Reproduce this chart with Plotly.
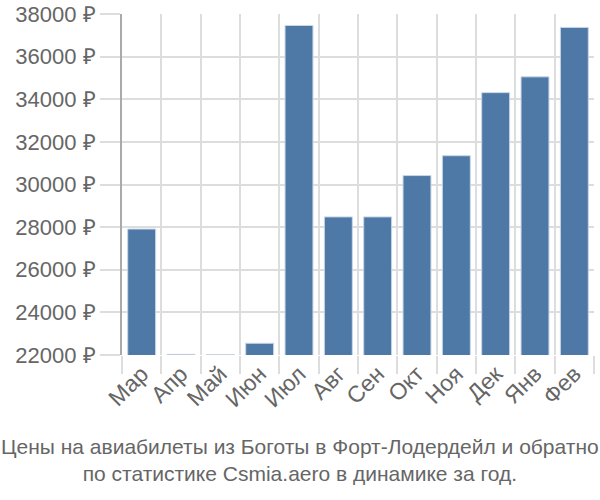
import plotly.graph_objects as go

months = ["Мар", "Апр", "Май", "Июн", "Июл", "Авг", "Сен", "Окт", "Ноя", "Дек", "Янв", "Фев"]
prices = [27910, 22030, 22020, 22550, 37460, 28480, 28480, 30420, 31350, 34310, 35050, 37370]
ytick_vals = [22000, 24000, 26000, 28000, 30000, 32000, 34000, 36000, 38000]
ytick_text = [f"{v} ₽" for v in ytick_vals]
title_lines = ["Цены на авиабилеты из Боготы в Форт-Лодердейл и обратно",
               "по статистике Csmia.aero в динамике за год."]

fig = go.Figure(go.Bar(
    x=months, y=prices,
    marker=dict(color="#4e79a7", line=dict(color="#c8d6e6", width=1)),
))

fig.update_layout(
    width=600, height=500,
    margin=dict(l=122, r=6, t=14, b=145),
    paper_bgcolor="white", plot_bgcolor="white",
    bargap=0.29,
    showlegend=False,
    font=dict(family="Liberation Sans", color="#666666"),
    xaxis=dict(
        tickson="boundaries", ticks="outside", ticklen=18, tickcolor="#dddddd", tickwidth=2,
        showgrid=True, gridcolor="#dddddd", gridwidth=2,
        tickangle=-45, tickfont=dict(size=23, color="#666666"),
        showline=False, zeroline=False, automargin=False,
    ),
    yaxis=dict(
        range=[22000, 38000], tickvals=ytick_vals, ticktext=ytick_text,
        ticks="outside", ticklen=20, tickcolor="#dddddd", tickwidth=2,
        showgrid=True, gridcolor="#dddddd", gridwidth=2,
        showline=True, linecolor="#aaaaaa", linewidth=2,
        tickfont=dict(size=22, color="#666666"),
        zeroline=False, automargin=False,
    ),
    annotations=[dict(
        text="<br>".join(title_lines), x=(300 - 122) / 472, xref="paper",
        y=-(433 - 355) / 341, yref="paper",
        xanchor="center", yanchor="top", showarrow=False,
        font=dict(size=21, color="#666666"),
    )],
)

fig.write_html("out.html")
